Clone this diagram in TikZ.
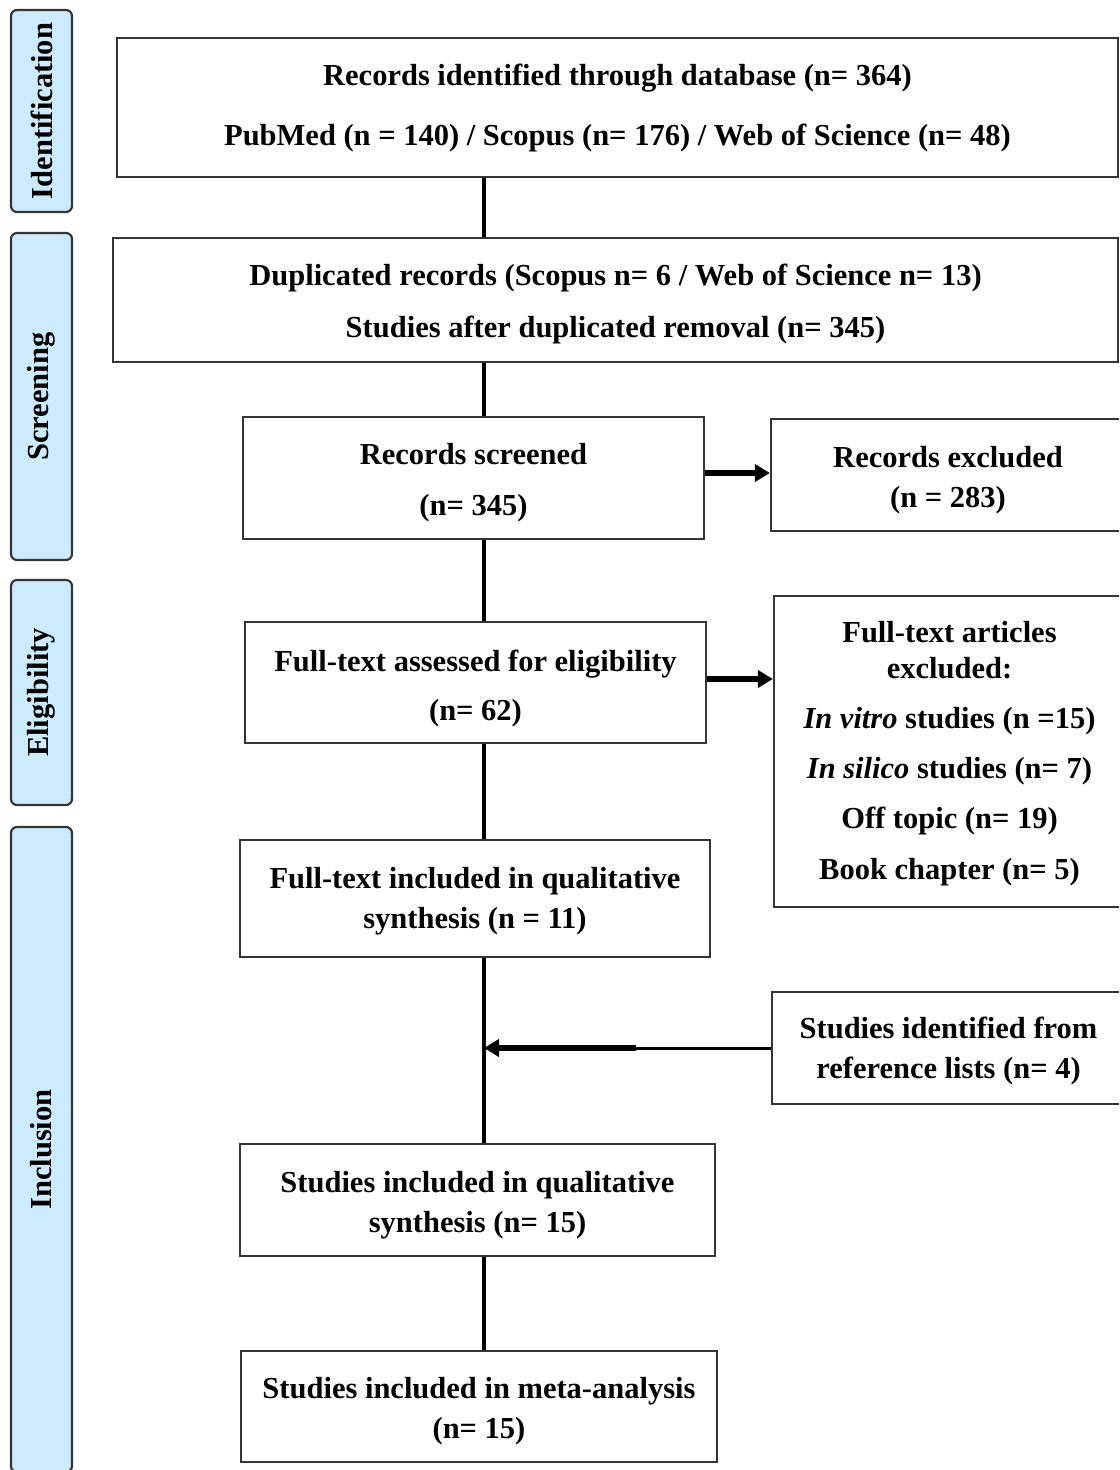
\documentclass[tikz,border=0pt]{standalone}
\usepackage{fontspec}
\setmainfont{Liberation Serif}
\usetikzlibrary{arrows.meta}
\definecolor{sidefill}{HTML}{CCEBFF}
\definecolor{edge}{HTML}{353535}
\newcommand\topstrut[1]{\rule{0pt}{#1}}
\begin{document}
\begin{tikzpicture}[x=0.5pt,y=-0.5pt,
  txt/.style={font=\fontsize{15.25}{20}\selectfont\bfseries, align=center},
  box/.style={txt, draw=edge, line width=1.1pt, fill=white, inner sep=0pt},
  side/.style={txt, draw=edge, line width=1.1pt, fill=sidefill, rounded corners=3pt, rotate=90, inner sep=0pt, minimum height=30.5pt},
  link/.style={line width=1.8pt},
  thinlink/.style={line width=1.5pt},
  arr/.style={line width=2.8pt, -{Triangle[length=7.5pt,width=8.5pt]}},
]
\clip (0,0) rectangle (1119,1470);
\fill[white] (0,0) rectangle (1119,1470);

% side labels
\node[side, minimum width=101pt] (sid) at (41.5,111) {Identification};
\node[side, minimum width=163.5pt] (sscr) at (41.5,396.5) {Screening};
\node[side, minimum width=112.5pt] (selg) at (41.5,692.5) {Eligibility};
\node[side, minimum width=322.5pt] (sinc) at (41.5,1149.5) {Inclusion};

% boxes
\node[box, minimum width=500.5pt, minimum height=69.5pt] (b1) at (617.5,107.5)
  {\topstrut{11.5pt}Records identified through database (n= 364)\\[10pt] PubMed (n = 140) / Scopus (n= 176) / Web of Science (n= 48)};
\node[box, minimum width=502.5pt, minimum height=62pt] (b2) at (615.5,300)
  {\topstrut{14.5pt}Duplicated records (Scopus n= 6 / Web of Science n= 13)\\[6pt] Studies after duplicated removal (n= 345)};
\node[box, minimum width=230.5pt, minimum height=61pt] (b3) at (473.5,478)
  {\topstrut{15.5pt}Records screened\\[5.5pt] (n= 345)};
\node[box, minimum width=177pt, minimum height=56pt] (b4) at (948,475)
  {\topstrut{15.5pt}Records excluded\\ (n = 283)};
\node[box, minimum width=230.5pt, minimum height=60.5pt] (b5) at (475.5,682.5)
  {\topstrut{16.5pt}Full-text assessed for eligibility\\[4.5pt] (n= 62)};
\node[box, minimum width=175.5pt, minimum height=155.5pt] (b6) at (949.5,751.5)
  {\topstrut{12.5pt}Full-text articles\\[-2pt] excluded:\\[5pt] \textit{In vitro} studies (n =15)\\[5pt] \textit{In silico} studies (n= 7)\\[5pt] Off topic (n= 19)\\[5.5pt] Book chapter (n= 5)};
\node[box, minimum width=235pt, minimum height=58.5pt] (b7) at (475,898.5)
  {\topstrut{13.5pt}Full-text included in qualitative\\ synthesis (n = 11)};
\node[box, minimum width=176.5pt, minimum height=56pt] (b8) at (948.5,1048)
  {\topstrut{13.5pt}Studies identified from\\ reference lists (n= 4)};
\node[box, minimum width=237.5pt, minimum height=56pt] (b9) at (477.5,1200)
  {\topstrut{15.5pt}Studies included in qualitative\\ synthesis (n= 15)};
\node[box, minimum width=238pt, minimum height=55.5pt] (b10) at (479,1406.5)
  {\topstrut{15.5pt}Studies included in meta-analysis\\ (n= 15)};

% spine
\coordinate (sp) at (484,0);
\draw[link] (b1.south -| sp) -- (b2.north -| sp);
\draw[link] (b2.south -| sp) -- (b3.north -| sp);
\draw[link] (b3.south -| sp) -- (b5.north -| sp);
\draw[link] (b5.south -| sp) -- (b7.north -| sp);
\draw[link] (b7.south -| sp) -- (b9.north -| sp);
\draw[link] (b9.south -| sp) -- (b10.north -| sp);

% side arrows
\coordinate (a1) at (0,473);
\coordinate (a2) at (0,679);
\draw[arr] (b3.east |- a1) -- (b4.west |- a1);
\draw[arr] (b5.east |- a2) -- (b6.west |- a2);
\coordinate (j) at (636,1048);
\draw[thinlink] (b8.west) -- (j);
\draw[arr] (j) -- (b8.west -| sp);
\end{tikzpicture}
\end{document}
